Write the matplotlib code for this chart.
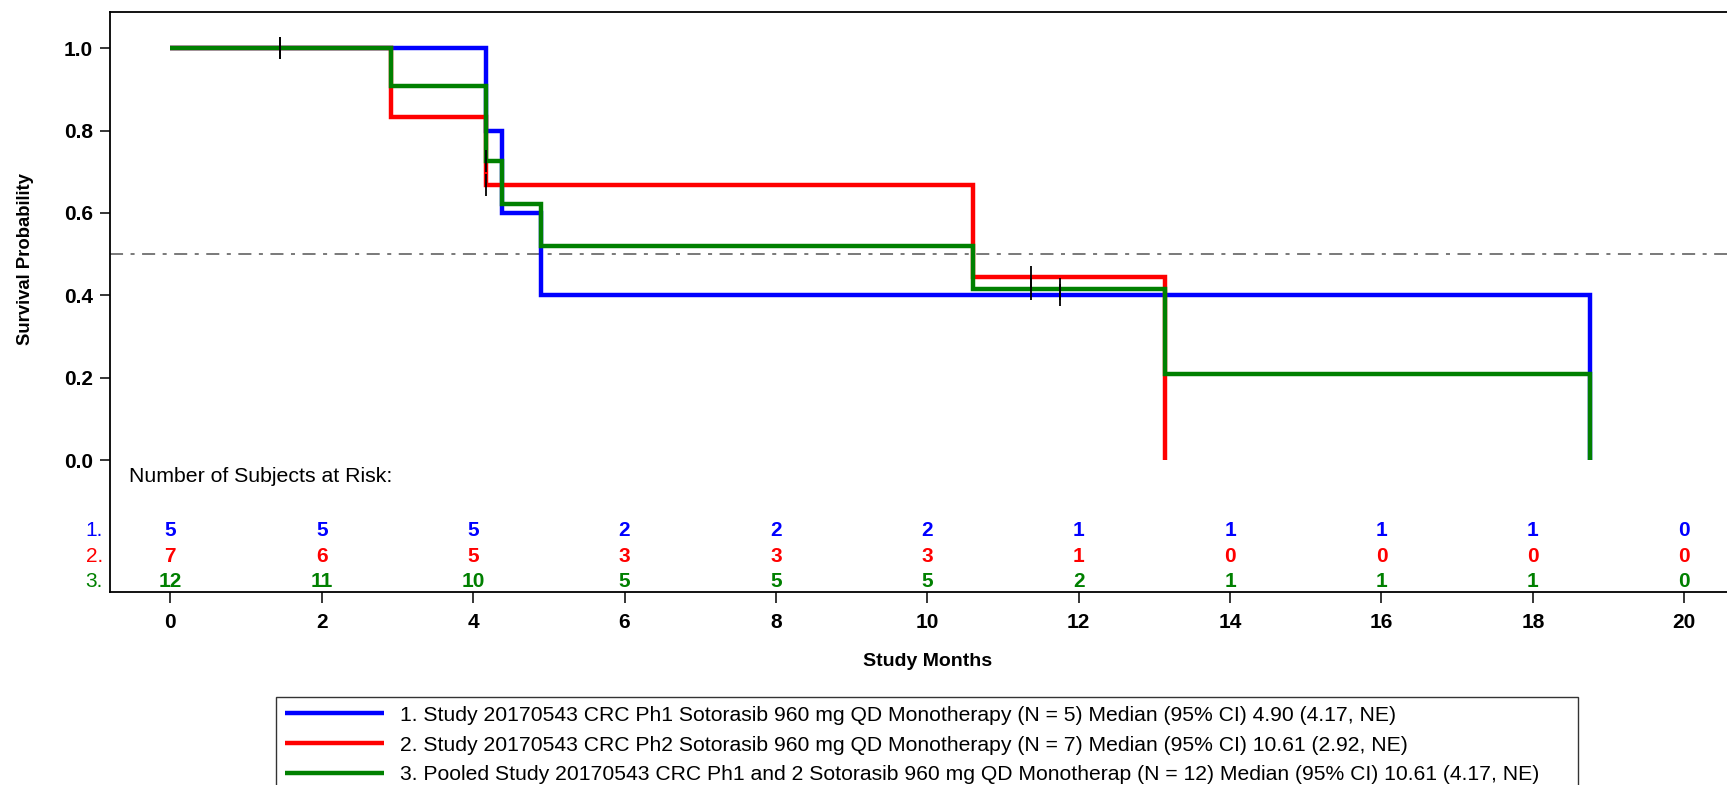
import numpy as np
import matplotlib
matplotlib.use("Agg")
import matplotlib.pyplot as plt
from matplotlib.lines import Line2D

plt.rcParams["font.family"] = ["Liberation Sans", "DejaVu Sans"]
plt.rcParams["lines.scale_dashes"] = False

# Kaplan-Meier step points (time in months, survival after the step)
blue_t = [0.0, 4.17, 4.38, 4.90, 18.75]
blue_s = [1.0, 0.800, 0.600, 0.400, 0.0]
red_t = [0.0, 2.92, 4.17, 10.61, 13.14]
red_s = [1.0, 0.833, 0.667, 0.444, 0.0]
green_t = [0.0, 2.92, 4.17, 4.38, 4.90, 10.61, 13.14, 18.75]
green_s = [1.0, 0.909, 0.727, 0.623, 0.519, 0.415, 0.208, 0.0]

# Censoring times
blue_cens = [11.75]
red_cens = [1.45, 4.17, 11.37]
green_cens = [1.45, 4.17, 11.37, 11.75]

# Number of subjects at risk
risk_times = [0, 2, 4, 6, 8, 10, 12, 14, 16, 18, 20]
risk_blue = [5, 5, 5, 2, 2, 2, 1, 1, 1, 1, 0]
risk_red = [7, 6, 5, 3, 3, 3, 1, 0, 0, 0, 0]
risk_green = [12, 11, 10, 5, 5, 5, 2, 1, 1, 1, 0]

labels = [
    "1. Study 20170543 CRC Ph1 Sotorasib 960 mg QD Monotherapy (N = 5) Median (95% CI) 4.90 (4.17, NE)",
    "2. Study 20170543 CRC Ph2 Sotorasib 960 mg QD Monotherapy (N = 7) Median (95% CI) 10.61 (2.92, NE)",
    "3. Pooled Study 20170543 CRC Ph1 and 2 Sotorasib 960 mg QD Monotherap (N = 12) Median (95% CI) 10.61 (4.17, NE)",
]
row_tags = ["1.", "2.", "3."]
colors = ["#0000FF", "#FF0000", "#008000"]

W, H = 1727, 785
fig = plt.figure(figsize=(W / 100, H / 100), dpi=100)
fig.patch.set_facecolor("white")

# axes frame in pixels: left 110, right 1744.6 (beyond the canvas), top 12.3, bottom 592.3
ax = fig.add_axes([110 / W, 1 - 592.3 / H, (1744.6 - 110) / W, (592.3 - 12.3) / H])
ax.set_xlim(-0.797, 20.797)
ax.set_ylim(-0.3213, 1.0874)

ax.axhline(0.5, color="#555555", lw=1.1, zorder=1,
           linestyle=(0, (9.4, 5.4, 2.9, 5.4)))

series = [(blue_t, blue_s, blue_cens), (red_t, red_s, red_cens),
          (green_t, green_s, green_cens)]
for (t, s, c), col in zip(series, colors):
    ax.step(t, s, where="post", color=col, lw=3.2, zorder=3,
            solid_joinstyle="miter", solid_capstyle="butt")
for (t, s, c), col in zip(series, colors):
    idx = np.searchsorted(t, c, side="right") - 1
    ax.plot(c, np.asarray(s)[idx], linestyle="none", marker="|",
            markersize=16, markeredgewidth=1.3, color="black", zorder=4)

# axis styling
for sp in ax.spines.values():
    sp.set_linewidth(1.3)
ax.set_xticks(np.arange(0, 21, 2))
ax.set_yticks(np.arange(0, 1.01, 0.2))
ax.set_yticklabels([f"{v:.1f}" for v in np.arange(0, 1.01, 0.2)])
ax.tick_params(axis="y", length=7.2, width=1.1, pad=5, labelsize=15)
ax.tick_params(axis="x", length=8, width=1.1, pad=7, labelsize=15)
for lab in ax.get_xticklabels() + ax.get_yticklabels():
    lab.set_fontweight("bold")

ax.set_ylabel("Survival Probability", fontsize=13.3, fontweight="bold")
ax.yaxis.label.set_va("center")
ax.yaxis.set_label_coords((25.5 - 110) / (1744.6 - 110), (592.3 - 259) / 580)
ax.set_xlabel("Study Months", fontsize=14, fontweight="bold")
ax.xaxis.label.set_va("center")
ax.xaxis.set_label_coords(0.5, (592.3 - 662) / 580)

# at-risk table
ax.text(-0.546, -0.039, "Number of Subjects at Risk:", fontsize=15.3,
        ha="left", va="center")
row_y = [-0.172, -0.235, -0.296]
for y, tag, counts, col in zip(row_y, row_tags,
                               [risk_blue, risk_red, risk_green], colors):
    ax.text(-0.889, y, tag, fontsize=15, color=col, ha="right", va="center",
            clip_on=False)
    for x, n in zip(risk_times, counts):
        ax.text(x, y, str(n), fontsize=15, fontweight="bold", color=col,
                ha="center", va="center")

# legend box centred under the plot area
handles = [Line2D([], [], color=c, lw=3.2, solid_capstyle="butt") for c in colors]
leg_x0, leg_x1 = 275.5, 1578.0
leg = fig.legend(handles, labels, loc="upper left", mode="expand",
                 bbox_to_anchor=(leg_x0 / W, 1 - 696.7 / H,
                                 (leg_x1 - leg_x0) / W, 0),
                 fontsize=15.2, frameon=True, fancybox=False, edgecolor="black",
                 borderpad=0.43, handlelength=4.7, handletextpad=0.76,
                 labelspacing=0.51, borderaxespad=0)
leg.get_frame().set_linewidth(1.0)

fig.savefig("out.png", dpi=100, facecolor="white")
